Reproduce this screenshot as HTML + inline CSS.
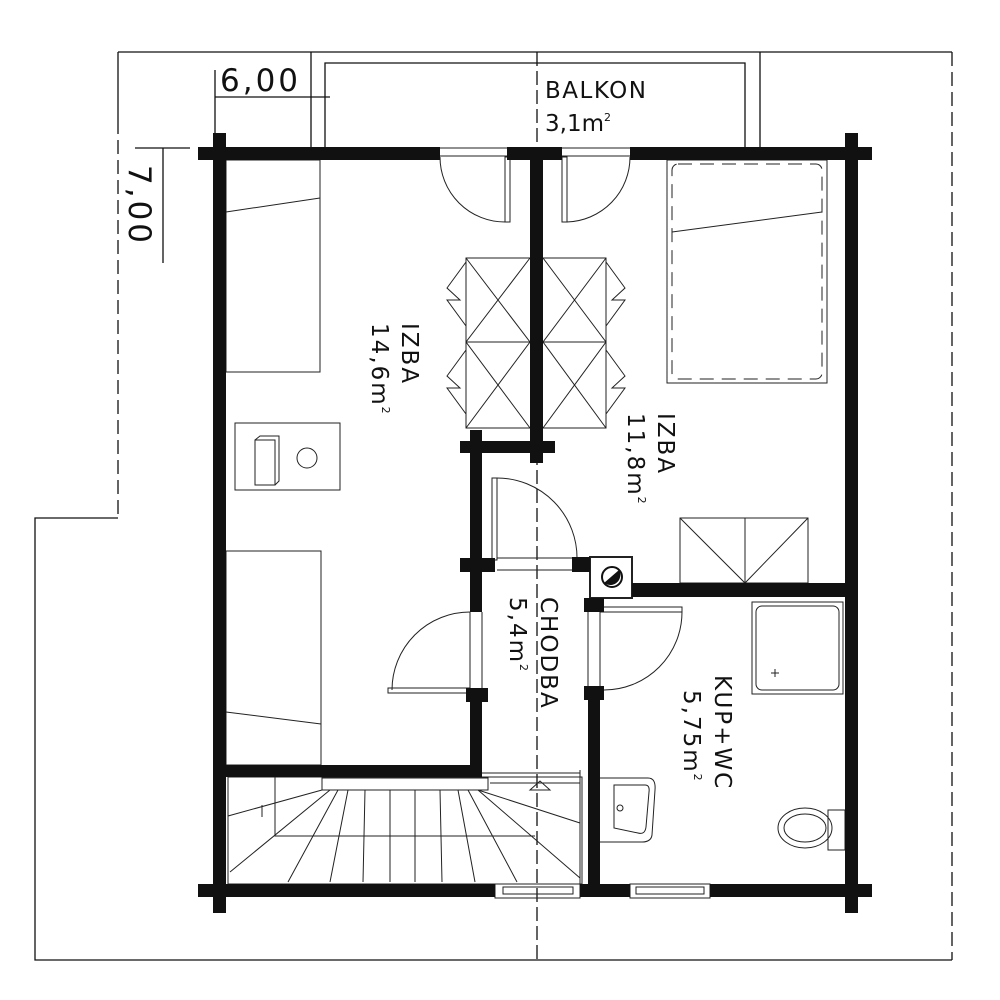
<!DOCTYPE html>
<html><head><meta charset="utf-8"><style>
html,body{margin:0;padding:0;background:#fff}
svg{display:block}
text{font-family:"DejaVu Sans","Liberation Sans",sans-serif;fill:#111}
</style></head><body>
<svg width="1000" height="1000" viewBox="0 0 1000 1000" xmlns="http://www.w3.org/2000/svg">
<g fill="none" stroke="#111" stroke-width="1.3">
<path d="M118 52 H952"/>
<path d="M952 52 V960" stroke-dasharray="14 6"/>
<path d="M118 52 V120"/>
<path d="M118 120 V518" stroke-dasharray="14 6"/>
<path d="M118 518 H35 V960 H952"/>
<path d="M537 52 V960" stroke-dasharray="14 5"/>
<path d="M311 148 V52 M760 148 V52 M325 148 V63 H745 V148"/>
<path d="M215 70 V135 M215 97 H330"/>
<path d="M163 148 V263 M135 148 H190"/>
</g>
<text x="220" y="91" font-size="31" letter-spacing="3">6,00</text>
<text transform="translate(129,165) rotate(90)" font-size="31" letter-spacing="3">7,00</text>
<text x="545" y="98" font-size="23" letter-spacing="1.5">BALKON</text>
<text x="545" y="131" font-size="23">3,1m<tspan font-size="11" dy="-10">2</tspan></text>

<g fill="none" stroke="#222" stroke-width="1">
<rect x="226" y="160" width="94" height="212"/>
<path d="M226 212 L320 198"/>
<rect x="235" y="423" width="105" height="67"/>
<rect x="255" y="440" width="20" height="45"/>
<path d="M255 440 L260 436 H279 V481 L275 485"/>
<circle cx="307" cy="458" r="10"/>
<rect x="226" y="551" width="95" height="214"/>
<path d="M226 712 L321 724"/>
<rect x="466" y="258" width="140" height="170"/>
<path d="M466 342 H606 M466 258 L530 342 L466 428 M530 258 L466 342 L530 428 M543 258 L606 342 L543 428 M606 258 L543 342 L606 428"/>
<path d="M466 262 L447 288 L460 300 L447 300 L466 326 M466 350 L447 376 L460 388 L447 388 L466 414"/>
<path d="M606 262 L625 288 L612 300 L625 300 L606 326 M606 350 L625 376 L612 388 L625 388 L606 414"/>
<rect x="667" y="160" width="160" height="223"/>
<rect x="672" y="164" width="150" height="215" rx="6" stroke-dasharray="14 8"/>
<path d="M672 232 L822 212"/>
<rect x="680" y="518" width="128" height="65"/>
<path d="M745 518 V583 M680 518 L745 583 L808 518"/>
<rect x="752" y="602" width="91" height="92"/>
<rect x="756" y="606" width="83" height="84" rx="6"/>
<path d="M771 673 h8 M775 669 v8"/>
<path d="M600 778 H648 Q656 778 655 790 L652 835 Q651 842 642 842 H600"/>
<path d="M614 785 H645 Q650 785 649 792 L646 827 Q645 835 638 833 L614 828 Z"/>
<circle cx="620" cy="808" r="3"/>
<ellipse cx="805" cy="828" rx="27" ry="20"/>
<ellipse cx="805" cy="828" rx="21" ry="14"/>
<rect x="828" y="810" width="17" height="40"/>
<rect x="228" y="777" width="354" height="107"/>
<path d="M275 777 V836 H535 M580 770 V884"/>
<path d="M228 816 L322 790 M262 805 v12 M478 790 L580 823"/>
<path d="M482 773 H580 M490 783 H580"/>
<path d="M530 790 L540 781 L550 790 Z"/>
<path d="M330 790 L230 872 M338 790 L288 882 M348 790 L330 882 M365 790 L363 882 M390 790 L390 882 M415 790 L415 882 M440 790 L442 882 M458 790 L475 882 M468 790 L517 882 M478 790 L580 878"/>
<rect x="322" y="778" width="166" height="12" fill="#fff"/>
<rect x="505" y="157" width="5" height="65"/>
<path d="M440 157 A65 65 0 0 0 505 222"/>
<rect x="562" y="157" width="5" height="65"/>
<path d="M630 157 A65 65 0 0 1 567 222"/>
<path d="M440 148 H507 M440 156 H507 M562 148 H630 M562 156 H630"/>
<rect x="492" y="478" width="5" height="82"/>
<path d="M497 478 A80 80 0 0 1 577 560"/>
<path d="M497 558 H577 M497 570 H577"/>
<rect x="388" y="688" width="82" height="5"/>
<path d="M470 612 A78 78 0 0 0 392 690"/>
<path d="M470 612 V690 M482 612 V690"/>
<rect x="600" y="607" width="82" height="5"/>
<path d="M682 612 A78 78 0 0 1 604 690"/>
<path d="M588 598 V690 M600 598 V690"/>
<rect x="495" y="884" width="85" height="14"/><rect x="503" y="887" width="70" height="7"/>
<rect x="630" y="884" width="80" height="14"/><rect x="636" y="887" width="68" height="7"/>
<rect x="590" y="557" width="42" height="41" stroke-width="2"/>
</g>
<circle cx="612" cy="577" r="10" fill="none" stroke="#111" stroke-width="2"/>
<path d="M604 583 L619 570 A10 10 0 0 1 606 584 Z" fill="#111"/>

<g fill="#111">
<rect x="198" y="147" width="242" height="13"/>
<rect x="507" y="147" width="55" height="13"/>
<rect x="630" y="147" width="242" height="13"/>
<rect x="213" y="133" width="13" height="780"/>
<rect x="845" y="133" width="13" height="780"/>
<rect x="198" y="884" width="297" height="13"/>
<rect x="580" y="884" width="50" height="13"/>
<rect x="710" y="884" width="162" height="13"/>
<rect x="530" y="147" width="13" height="316"/>
<rect x="460" y="441" width="95" height="12"/>
<rect x="470" y="430" width="12" height="182"/>
<rect x="460" y="558" width="35" height="14"/>
<rect x="572" y="557" width="18" height="15"/>
<rect x="466" y="688" width="22" height="14"/>
<rect x="470" y="690" width="12" height="86"/>
<rect x="588" y="690" width="12" height="196"/>
<rect x="584" y="598" width="20" height="14"/>
<rect x="584" y="686" width="20" height="14"/>
<rect x="632" y="583" width="213" height="14"/>
<rect x="226" y="765" width="256" height="12"/>
</g>

<g font-size="23" letter-spacing="2">
<text transform="translate(402,323) rotate(90)">IZBA</text>
<text transform="translate(372,323) rotate(90)">14,6m<tspan font-size="11" dy="-10">2</tspan></text>
<text transform="translate(658,413) rotate(90)">IZBA</text>
<text transform="translate(628,413) rotate(90)">11,8m<tspan font-size="11" dy="-10">2</tspan></text>
<text transform="translate(541,597) rotate(90)">CHODBA</text>
<text transform="translate(510,597) rotate(90)">5,4m<tspan font-size="11" dy="-10">2</tspan></text>
<text transform="translate(715,675) rotate(90)">KUP+WC</text>
<text transform="translate(684,690) rotate(90)">5,75m<tspan font-size="11" dy="-10">2</tspan></text>
</g>
</svg>
</body></html>
